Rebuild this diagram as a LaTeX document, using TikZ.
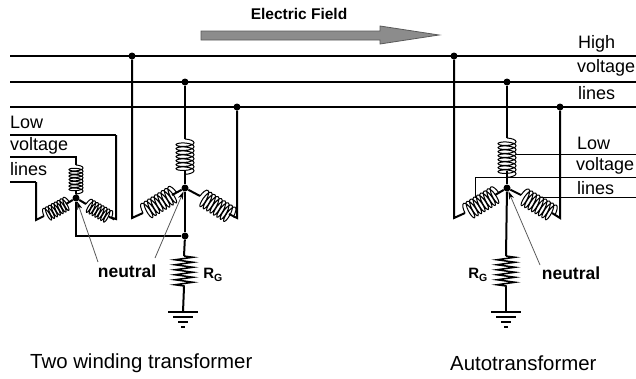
\documentclass[tikz,border=0pt]{standalone}
\usepackage{fontspec}
\setmainfont{Liberation Sans}
\usetikzlibrary{arrows.meta, positioning, calc, decorations.pathmorphing}

\begin{document}
\begin{tikzpicture}[x=1pt, y=-1pt,
                    wire/.style={draw, line width=2pt},
                    thinwire/.style={draw, line width=1.2pt},
                    tapwire/.style={draw, line width=0.8pt},
                    winding/.style={draw, line width=1pt, decorate, decoration={coil, aspect=0.3, segment length=4pt, amplitude=9pt}},
                    smallwinding/.style={draw, line width=1pt, decorate, decoration={coil, aspect=0.3, segment length=3.3pt, amplitude=7pt}},
                    resistor/.style={draw, line width=1.5pt, decorate, decoration={zigzag, segment length=5pt, amplitude=9pt}},
                    junction/.style={circle, fill=black, inner sep=0pt, minimum size=7pt},
                    leader/.style={draw=black!65, line width=0.8pt, -{Stealth[length=8pt, width=5pt, black]}},
                    plain/.style={anchor=west, inner sep=0pt, font=\fontsize{18}{20}\selectfont},
                    caption/.style={anchor=west, inner sep=0pt, font=\fontsize{20.4}{22}\selectfont},
                    bold/.style={inner sep=0pt, font=\fontsize{17.5}{20}\selectfont\bfseries}]

    \useasboundingbox (0,0) rectangle (636,378);

    % High voltage lines
    \coordinate (busAleft) at (10,56);
    \coordinate (busAright) at (636,56);
    \coordinate (busBleft) at (10,82);
    \coordinate (busBright) at (636,82);
    \coordinate (busCleft) at (10,107);
    \coordinate (busCright) at (636,107);
    \draw[wire] (busAleft) -- (busAright);
    \draw[wire] (busBleft) -- (busBright);
    \draw[wire] (busCleft) -- (busCright);

    % Junctions
    \node[junction] (tapA1) at (132,56) {};
    \node[junction] (tapB1) at (185,82) {};
    \node[junction] (tapC1) at (237,107) {};
    \node[junction] (tapA2) at (454,56) {};
    \node[junction] (tapB2) at (507,82) {};
    \node[junction] (tapC2) at (560,107) {};
    \node[junction] (neutral1) at (185,188) {};
    \node[junction] (neutral2) at (507,188) {};
    \node[junction] (neutralLow) at (76,198) {};
    \node[junction] (groundTap) at (185,236) {};

    % Two winding transformer, high side
    \coordinate (top1a) at (185,139);
    \coordinate (top1b) at (185,171);
    \coordinate (left1a) at (143,213);
    \coordinate (left1b) at (172,195);
    \coordinate (right1a) at (200,196);
    \coordinate (right1b) at (229,214);
    \coordinate (corner1a) at (132,218);
    \coordinate (corner1c) at (237,218);
    \draw[wire] (tapB1) -- (top1a);
    \draw[winding] (top1a) -- ($(top1a)!1.22!(top1b)$);
    \draw[wire] (top1b) -- (neutral1);
    \draw[wire] (tapA1) -- (corner1a) -- (left1a);
    \draw[winding] (left1a) -- ($(left1a)!1.2!(left1b)$);
    \draw[wire] (left1b) -- (neutral1);
    \draw[wire] (neutral1) -- (right1a);
    \draw[winding] (right1a) -- ($(right1a)!1.2!(right1b)$);
    \draw[wire] (right1b) -- (corner1c) -- (tapC1);

    % Two winding transformer, low side
    \coordinate (topLowa) at (76,165);
    \coordinate (topLowb) at (76,190);
    \coordinate (leftLowa) at (44,216);
    \coordinate (leftLowb) at (66,204);
    \coordinate (rightLowa) at (86,204);
    \coordinate (rightLowb) at (109,217);
    \coordinate (lowAend) at (10,135);
    \coordinate (lowAcorner) at (116,135);
    \coordinate (lowAbottom) at (116,219);
    \coordinate (lowBend) at (10,157);
    \coordinate (lowBcorner) at (76,157);
    \coordinate (lowCend) at (10,182);
    \coordinate (lowCcorner) at (36,182);
    \coordinate (lowCbottom) at (36,220);
    \coordinate (neutralLowDown) at (76,236);
    \draw[thinwire] (lowBend) -- (lowBcorner) -- (topLowa);
    \draw[smallwinding] (topLowa) -- ($(topLowa)!1.22!(topLowb)$);
    \draw[wire] (topLowb) -- (neutralLow);
    \draw[thinwire] (lowCend) -- (lowCcorner);
    \draw[wire] (lowCcorner) -- (lowCbottom) -- (leftLowa);
    \draw[smallwinding] (leftLowa) -- ($(leftLowa)!1.22!(leftLowb)$);
    \draw[wire] (leftLowb) -- (neutralLow);
    \draw[wire] (neutralLow) -- (rightLowa);
    \draw[smallwinding] (rightLowa) -- ($(rightLowa)!1.22!(rightLowb)$);
    \draw[wire] (rightLowb) -- (lowAbottom) -- (lowAcorner);
    \draw[thinwire] (lowAcorner) -- (lowAend);
    \draw[wire] (neutralLow) -- (neutralLowDown) -- (groundTap);

    % Grounding, two winding transformer
    \coordinate (res1a) at (184,256);
    \coordinate (res1b) at (184,287);
    \coordinate (gnd1) at (183,312);
    \draw[wire] (neutral1) -- (groundTap);
    \draw[wire] (groundTap) -- (res1a);
    \draw[resistor] (res1a) -- (res1b);
    \draw[wire] (res1b) -- (gnd1);
    \draw[thinwire] ($(gnd1)+(-15,0)$) -- ($(gnd1)+(15,0)$);
    \draw[thinwire] ($(gnd1)+(-10,5)$) -- ($(gnd1)+(10,5)$);
    \draw[thinwire] ($(gnd1)+(-5,10)$) -- ($(gnd1)+(5,10)$);
    \draw[thinwire] ($(gnd1)+(-2,15)$) -- ($(gnd1)+(2,15)$);

    % Autotransformer
    \coordinate (top2a) at (507,138);
    \coordinate (top2b) at (507,171);
    \coordinate (left2a) at (465,213);
    \coordinate (left2b) at (495,195);
    \coordinate (right2a) at (521,195);
    \coordinate (right2b) at (552,213);
    \coordinate (corner2a) at (454,218);
    \coordinate (corner2c) at (560,218);
    \draw[wire] (tapB2) -- (top2a);
    \draw[winding] (top2a) -- ($(top2a)!1.22!(top2b)$);
    \draw[wire] (top2b) -- (neutral2);
    \draw[wire] (tapA2) -- (corner2a) -- (left2a);
    \draw[winding] (left2a) -- ($(left2a)!1.2!(left2b)$);
    \draw[wire] (left2b) -- (neutral2);
    \draw[wire] (neutral2) -- (right2a);
    \draw[winding] (right2a) -- ($(right2a)!1.2!(right2b)$);
    \draw[wire] (right2b) -- (corner2c) -- (tapC2);

    % Autotransformer, low voltage taps
    \coordinate (tapLow1) at (516,154);
    \coordinate (tapLow1end) at (636,154);
    \coordinate (tapLow2) at (475,198);
    \coordinate (tapLow2up) at (475,177);
    \coordinate (tapLow2end) at (636,177);
    \coordinate (tapLow3) at (540,197);
    \coordinate (tapLow3end) at (636,197);
    \draw[tapwire] (tapLow1) -- (tapLow1end);
    \draw[tapwire] (tapLow2) -- (tapLow2up) -- (tapLow2end);
    \draw[tapwire] (tapLow3) -- (tapLow3end);

    % Grounding, autotransformer
    \coordinate (res2a) at (506,256);
    \coordinate (res2b) at (506,287);
    \coordinate (gnd2) at (506,312);
    \draw[wire] (neutral2) -- (res2a);
    \draw[resistor] (res2a) -- (res2b);
    \draw[wire] (res2b) -- (gnd2);
    \draw[thinwire] ($(gnd2)+(-15,0)$) -- ($(gnd2)+(15,0)$);
    \draw[thinwire] ($(gnd2)+(-10,5)$) -- ($(gnd2)+(10,5)$);
    \draw[thinwire] ($(gnd2)+(-5,10)$) -- ($(gnd2)+(5,10)$);
    \draw[thinwire] ($(gnd2)+(-2,15)$) -- ($(gnd2)+(2,15)$);

    % Electric field arrow
    \node[bold, font=\fontsize{15.5}{18}\selectfont\bfseries] (fieldlabel) at (299,14) {Electric Field};
    \coordinate (fieldtip) at (439,35);
    \filldraw[fill=black!45, draw=black!65, line width=0.8pt] (201,31) -- (380,31) -- (380,26) -- (fieldtip) -- (380,44) -- (380,40) -- (201,40) -- cycle;

    % Labels
    \node[plain] (high) at (578,44) {High};
    \node[plain] (voltage) at (577,68) {voltage};
    \node[plain] (lines) at (578,93) {lines};
    \node[plain] (lowL) at (10,122) {Low};
    \node[plain] (voltageL) at (10,146) {voltage};
    \node[plain] (linesL) at (10,169) {lines};
    \node[plain] (lowR) at (577,143) {Low};
    \node[plain] (voltageR) at (576,166) {voltage};
    \node[plain] (linesR) at (577,188) {lines};
    \node[caption] (caption1) at (30,363) {Two winding transformer};
    \node[caption] (caption2) at (450,363) {Autotransformer};

    \node[bold] (neutrallabel1) at (127,271) {neutral};
    \node[bold] (neutrallabel2) at (571,273) {neutral};
    \node[bold, font=\fontsize{15}{18}\selectfont\bfseries] (rg1) at (213,275) {R\textsubscript{G}};
    \node[bold, font=\fontsize{15}{18}\selectfont\bfseries] (rg2) at (478,275) {R\textsubscript{G}};

    % Neutral pointers
    \draw[leader] (98,262) -- (neutralLow);
    \draw[leader] (155,258) -- (neutral1);
    \draw[leader] (540,265) -- (neutral2);

\end{tikzpicture}
\end{document}
